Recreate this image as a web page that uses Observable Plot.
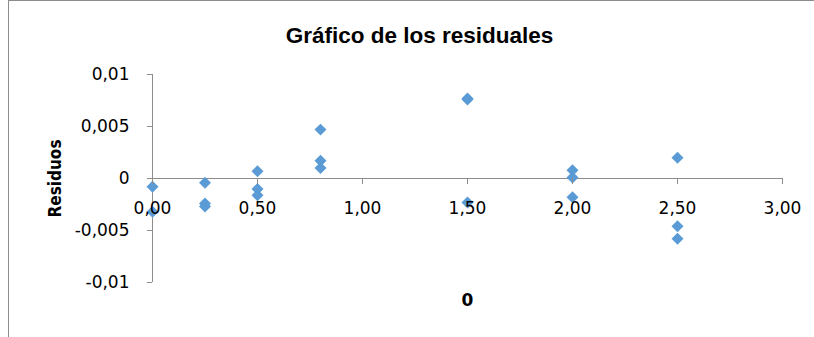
<!DOCTYPE html>
<html><head><meta charset="utf-8">
<script src="https://cdn.jsdelivr.net/npm/d3@7"></script>
<script src="https://cdn.jsdelivr.net/npm/@observablehq/plot@0.6"></script>
<style>
html,body{margin:0;padding:0;background:#fff;overflow:hidden}
#wrap{position:relative;width:814px;height:337px}
#border{position:absolute;left:8px;top:0;width:820px;height:340px;border-top:1px solid #8c8c8c;border-left:1px solid #8c8c8c;pointer-events:none}
#wrap svg{position:absolute;left:0;top:0}
</style></head><body><div id="wrap"><div id="border"></div></div>
<script>
const xValues = [0, 0, 0.25, 0.25, 0.25, 0.5, 0.5, 0.5, 0.8, 0.8, 0.8, 1.5, 1.5, 1.5, 2, 2, 2, 2.5, 2.5, 2.5];
const residuals = [-0.0008, -0.0032, -0.0004, -0.0024, -0.0027, 0.0007, -0.001, -0.0016, 0.0047, 0.0017, 0.001, 0.0076, 0.0077, -0.0023, 0.0008, 0.0001, -0.0018, 0.002, -0.0046, -0.0058];
const xTicks = [0, 0.5, 1, 1.5, 2, 2.5, 3];
const xTickLabels = ["0,00", "0,50", "1,00", "1,50", "2,00", "2,50", "3,00"];
const yTicks = [-0.01, -0.005, 0, 0.005, 0.01];
const yTickLabels = ["-0,01", "-0,005", "0", "0,005", "0,01"];
const title = "Gráfico de los residuales";
const yLabel = "Residuos";
const xLabel = "0";

const data = xValues.map((x, i) => ({x, y: residuals[i]}));
const axisColor = "#8c8c8c";
const tickFont = "DejaVu Sans";

const chart = Plot.plot({
  width: 814, height: 337,
  marginLeft: 152, marginRight: 32, marginTop: 74, marginBottom: 55,
  x: {domain: [0, 3], axis: null},
  y: {domain: [-0.01, 0.01], axis: null},
  style: {background: "transparent", overflow: "visible"},
  marks: [
    Plot.ruleX([0], {stroke: axisColor, strokeWidth: 1}),
    Plot.ruleY([0], {stroke: axisColor, strokeWidth: 1}),
    Plot.dot(data, {x: "x", y: "y", symbol: "diamond2", r: 5.4, fill: "#5B9BD5", stroke: "none"}),
    Plot.axisY({ticks: yTicks, tickFormat: d => yTickLabels[yTicks.findIndex(t => Math.abs(t - d) < 1e-9)],
      tickSize: 5, tickPadding: 18, fontSize: 17, fontFamily: tickFont, stroke: axisColor, fill: "#000", label: null}),
    Plot.axisX({ticks: xTicks, tickFormat: d => xTickLabels[xTicks.findIndex(t => Math.abs(t - d) < 1e-9)],
      anchor: "bottom", dy: -104, tickSize: 6, tickPadding: 17, fontSize: 17, fontFamily: tickFont, stroke: axisColor, fill: "#000", label: null}),
    Plot.text([title], {frameAnchor: "top", lineAnchor: "top", dx: -48, dy: -47, fontSize: 22.5, fontWeight: "bold", fontFamily: "Liberation Sans", fill: "#000"}),
    Plot.text([yLabel], {frameAnchor: "left", textAnchor: "middle", lineAnchor: "middle", dx: -97, rotate: -90, fontSize: 17, fontWeight: "bold", fontFamily: "'DejaVu Sans Condensed', sans-serif", fill: "#000"}),
    Plot.text([xLabel], {frameAnchor: "bottom", lineAnchor: "top", dy: 11, fontSize: 17, fontWeight: "bold", fontFamily: "DejaVu Sans", fill: "#000"})
  ]
});
document.getElementById("wrap").appendChild(chart);
</script></body></html>
